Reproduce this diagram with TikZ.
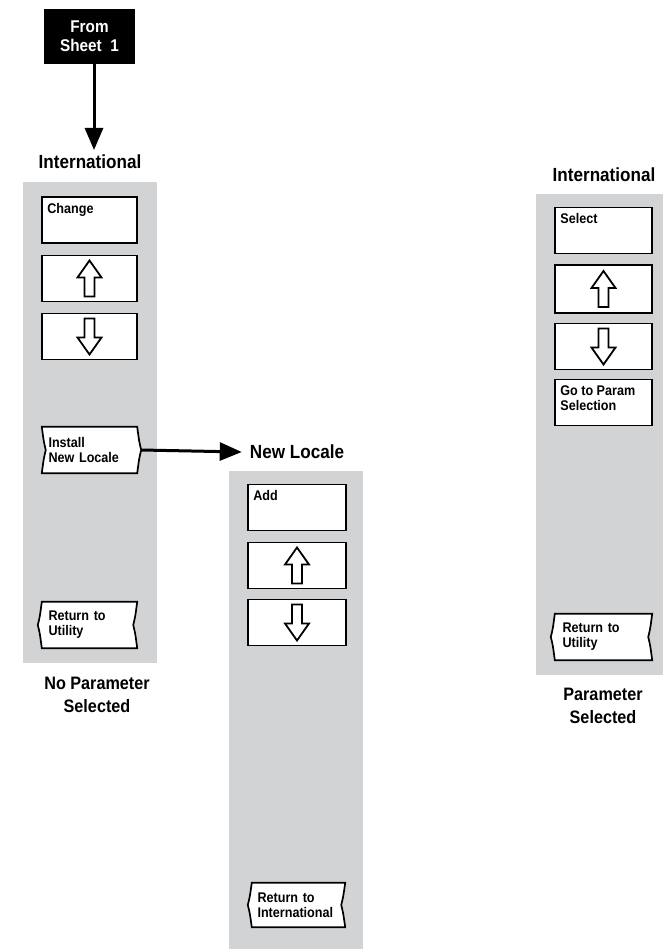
\documentclass[tikz,border=0pt]{standalone}
\usepackage{fontspec}
\setmainfont{Liberation Sans}
\newfontfamily\condb{Liberation Sans}[FakeStretch=0.9]
\usetikzlibrary{arrows.meta,calc}
\definecolor{panel}{HTML}{D1D3D4}
\tikzset{
  btn/.style={draw=black, line width=1.7pt, fill=white, minimum width=95pt, minimum height=46pt, inner sep=0pt},
  btnlbl/.style={label={[anchor=north west, inner sep=0pt, align=left, font=\condb\bfseries\fontsize{14}{15}\selectfont, xshift=6pt, yshift=-7pt]north west:#1}},
  tabtxt/.style={minimum width=95pt, minimum height=46pt, inner sep=0pt, text width=82pt, align=left, font=\condb\bfseries\fontsize{14}{15}\selectfont},
  tabline/.style={draw=black, line width=1.7pt, fill=white},
  biglbl/.style={font=\condb\bfseries\fontsize{19}{21}\selectfont, inner sep=0pt},
  sellbl/.style={font=\condb\bfseries\fontsize{18}{23}\selectfont, inner sep=0pt, align=center},
  flow/.style={line width=3pt, -{Triangle[width=18pt,length=22pt]}},
  uparr/.pic={\draw[line width=1.8pt, fill=white, line join=miter] (0,-18) -- (12,-1) -- (5,-1) -- (5,18) -- (-5,18) -- (-5,-1) -- (-12,-1) -- cycle;},
  dnarr/.pic={\draw[line width=1.8pt, fill=white, line join=miter] (0,18) -- (12,1) -- (5,1) -- (5,-18) -- (-5,-18) -- (-5,1) -- (-12,1) -- cycle;}
}
\newcommand\fwdtab[1]{%
  \path[tabline] (#1.north west) -- (#1.north east) .. controls ($(#1.east)+(2,-8)$) .. ($(#1.east)+(4,0)$) .. controls ($(#1.east)+(2,8)$) .. (#1.south east) -- (#1.south west) .. controls ($(#1.west)+(2,8)$) .. ($(#1.west)+(4,0)$) .. controls ($(#1.west)+(2,-8)$) .. cycle;}
\newcommand\backtab[1]{%
  \path[tabline] (#1.north west) -- (#1.north east) .. controls ($(#1.east)+(-2,-8)$) .. ($(#1.east)+(-4,0)$) .. controls ($(#1.east)+(-2,8)$) .. (#1.south east) -- (#1.south west) .. controls ($(#1.west)+(-2,8)$) .. ($(#1.west)+(-4,0)$) .. controls ($(#1.west)+(-2,-8)$) .. cycle;}
\begin{document}
\begin{tikzpicture}[x=1pt, y=-1pt]
\useasboundingbox (0,0) rectangle (664,949);
% panels
\fill[panel] (23,182) rectangle (157,663);
\fill[panel] (229,471) rectangle (363,949);
\fill[panel] (536,194) rectangle (663,675);

% top
\node[fill=black, text=white, minimum width=91pt, minimum height=55pt, inner sep=0pt, align=center,
  font=\condb\bfseries\fontsize{17}{19}\selectfont] (from) at (89.5,36.5) {From\\Sheet\ \ 1};
\node[biglbl] (intl) at (90,162) {International};
\coordinate (intltop) at (94,150);
\draw[flow] (from.south -| intltop) -- (intltop);

% left column
\node[btn, btnlbl=Change] (change) at (89.5,220) {};
\node[btn] (lup) at (89.5,278.5) {};
\pic at (lup.center) {uparr};
\node[btn] (ldn) at (89.5,336.5) {};
\pic at (ldn.center) {dnarr};
\node[tabtxt] (install) at (89.5,450) {};
\fwdtab{install}
\node[tabtxt] at (install.center) {Install\\New Locale};
\node[tabtxt] (lret) at (89.5,625) {};
\backtab{lret}
\node[tabtxt] at (lret.center) {Return to\\Utility};
\node[sellbl] (nops) at (97,695) {No Parameter\\Selected};

% middle column
\node[biglbl] (newloc) at (297,452) {New Locale};
\draw[flow] ($(install.east)+(4,0)$) -- ($(newloc.west)+(-8,0)$);
\node[btn, btnlbl=Add, minimum width=98pt] (add) at (297,507.5) {};
\node[btn, minimum width=98pt] (mup) at (297,565.5) {};
\pic at (mup.center) {uparr};
\node[btn, minimum width=98pt] (mdn) at (297,622.5) {};
\pic at (mdn.center) {dnarr};
\node[tabtxt, minimum width=93pt, minimum height=44pt] (mret) at (298.5,905) {};
\backtab{mret}
\node[tabtxt] at (mret.center) {Return to\\International};

% right column
\node[biglbl] (intl2) at (604,175) {International};
\node[btn, btnlbl=Select, minimum width=97pt] (select) at (603.5,230.5) {};
\node[btn, minimum width=97pt, minimum height=48pt] (rup) at (603.5,289) {};
\pic at (rup.center) {uparr};
\node[btn, minimum width=97pt] (rdn) at (603.5,346.5) {};
\pic at (rdn.center) {dnarr};
\node[btn, btnlbl={Go to Param\\Selection}, minimum width=97pt] (goto) at (603.5,402.5) {};
\node[tabtxt, minimum width=97pt] (rret) at (603.5,637) {};
\backtab{rret}
\node[tabtxt] at (rret.center) {Return to\\Utility};
\node[sellbl] (ps) at (603,706) {Parameter\\Selected};
\end{tikzpicture}
\end{document}
